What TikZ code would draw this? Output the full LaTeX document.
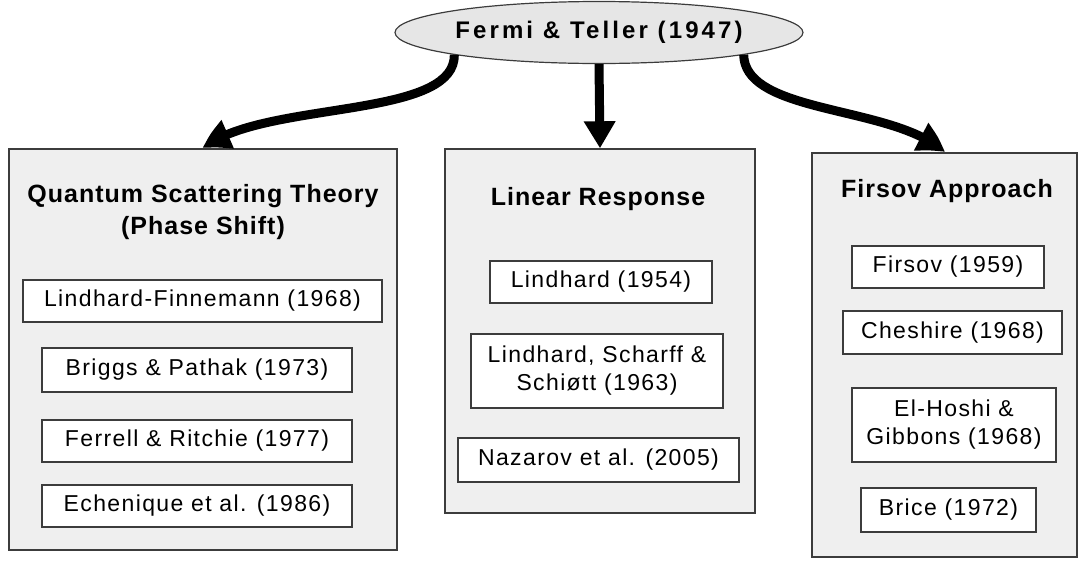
\documentclass[tikz,border=0pt]{standalone}
\usepackage{fontspec}
\setmainfont{Liberation Sans}
\newfontfamily\itemfont{Liberation Sans}[LetterSpace=6]
\newfontfamily\headfont{Liberation Sans}[LetterSpace=4]
\newfontfamily\topfont{Liberation Sans}[LetterSpace=13]
\usetikzlibrary{shapes.geometric,arrows.meta,bending}
\definecolor{panelfill}{RGB}{239,239,239}
\definecolor{ellfill}{RGB}{230,230,230}
\definecolor{edge}{RGB}{60,60,60}
\tikzset{
  panel/.style={draw=edge, line width=1.4pt, fill=panelfill, rectangle, inner sep=0pt},
  itembox/.style={draw=edge, line width=1.3pt, fill=white, rectangle, inner sep=0pt, align=center,
    font=\itemfont\fontsize{23}{28}\selectfont},
  headtext/.style={align=center, inner sep=0pt, font=\headfont\bfseries\fontsize{25}{32}\selectfont},
  topnode/.style={draw=edge, line width=1.2pt, fill=ellfill, ellipse, inner sep=0pt,
    minimum width=408pt, minimum height=62pt, font=\topfont\bfseries\fontsize{24}{28}\selectfont},
  flow/.style={line width=9pt, draw=black, -{Triangle[bend,length=27pt,width=30pt]}},
}
\begin{document}
\begin{tikzpicture}[x=1pt,y=-1pt]
\useasboundingbox (0,0) rectangle (1081,560);
% panels
\node[panel, minimum width=388pt, minimum height=401pt] (qst) at (203,349.5) {};
\node[panel, minimum width=310pt, minimum height=364pt] (lr) at (600,331) {};
\node[panel, minimum width=265pt, minimum height=404pt] (fa) at (944.5,355) {};
% top
\node[topnode] (ft) at (599,32.5) {Fermi \& Teller (1947)};
% titles
\node[headtext] (qsttitle) at (203,212) {Quantum Scattering Theory\\(Phase Shift)};
\node[headtext] (lrtitle) at (598,199) {Linear Response};
\node[headtext] (fatitle) at (947,191) {Firsov Approach};
% left items
\node[itembox, minimum width=359pt, minimum height=42pt] (lf) at (202.5,301) {Lindhard-Finnemann (1968)};
\node[itembox, minimum width=310pt, minimum height=44pt] (bp) at (197,370) {Briggs \& Pathak (1973)};
\node[itembox, minimum width=310pt, minimum height=42pt] (fr) at (197,441) {Ferrell \& Ritchie (1977)};
\node[itembox, minimum width=310pt, minimum height=42pt] (ec) at (197,506) {Echenique et al. (1986)};
% middle items
\node[itembox, minimum width=222pt, minimum height=42pt] (l54) at (601,282) {Lindhard (1954)};
\node[itembox, minimum width=252pt, minimum height=74pt] (lss) at (597,371) {Lindhard, Scharff \&\\Schiøtt (1963)};
\node[itembox, minimum width=281pt, minimum height=44pt] (naz) at (598.5,460) {Nazarov et al. (2005)};
% right items
\node[itembox, minimum width=192pt, minimum height=42pt] (f59) at (948,267) {Firsov (1959)};
\node[itembox, minimum width=219pt, minimum height=43pt] (ch) at (952.5,332.5) {Cheshire (1968)};
\node[itembox, minimum width=204pt, minimum height=74pt] (eh) at (954,425) {El-Hoshi \&\\Gibbons (1968)};
\node[itembox, minimum width=175pt, minimum height=44pt] (br) at (948.5,510) {Brice (1972)};
% arrows
\draw[flow] (ft.south west) .. controls (455,120) and (262,100) .. (qst.north);
\draw[flow] (ft.south) -- (lr.north);
\draw[flow] (ft.south east) .. controls (745,115) and (895,105) .. (fa.north);
\end{tikzpicture}
\end{document}
